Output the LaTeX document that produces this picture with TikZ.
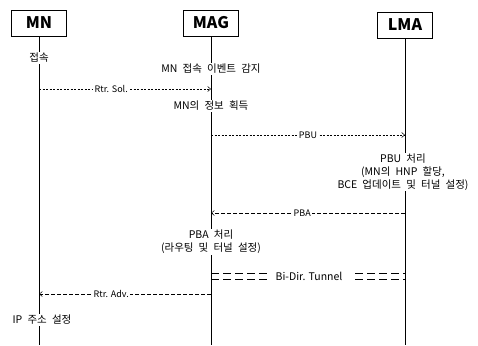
\documentclass[tikz,border=0pt]{standalone}
\usepackage{fontspec}
\setmainfont{Noto Sans CJK KR}[WordSpace=2.2]
\newfontfamily\msgfont{Noto Sans CJK KR}
\usetikzlibrary{arrows.meta}

\begin{document}
\begin{tikzpicture}[x=1pt,y=-1pt,
  ent/.style={rectangle,draw,line width=0.6pt,minimum width=55pt,
              minimum height=26pt,inner sep=0pt,
              font=\msgfont\fontsize{16}{16}\selectfont\bfseries},
  note/.style={fill=white,inner sep=1pt,align=center,
               font=\fontsize{10.5}{13}\selectfont},
  lbl/.style={fill=white,inner sep=1.5pt,font=\msgfont\fontsize{9}{10}\selectfont},
  life/.style={line width=0.6pt},
  sol/.style={-{Straight Barb[length=3pt,width=5pt]},line width=0.5pt,
              dash pattern=on 2pt off 1.5pt},
  adv/.style={-{Straight Barb[length=3pt,width=5pt]},line width=0.5pt,
              dash pattern=on 4pt off 2pt},
  tun/.style={line width=0.6pt,dash pattern=on 8pt off 4pt}]

\useasboundingbox (0,0) rectangle (478,345);

% entities
\node[ent] (mn) at (39,23) {MN};
\node[ent] (mag) at (211,23) {MAG};
\node[ent] (lma) at (405,25) {LMA};

\coordinate (mnb) at (39,345);
\coordinate (magb) at (211,345);
\coordinate (lmab) at (405,345);

\draw[life] (mn) -- (mnb);
\draw[life] (mag) -- (magb);
\draw[life] (lma) -- (lmab);

% message ends
\coordinate (solmn) at (39,89);
\coordinate (solmag) at (211,89);
\coordinate (pbumag) at (211,135);
\coordinate (pbulma) at (405,135);
\coordinate (pbalma) at (405,213);
\coordinate (pbamag) at (211,213);
\coordinate (tunmag1) at (211,273);
\coordinate (tunlma1) at (405,273);
\coordinate (tunmag2) at (211,279);
\coordinate (tunlma2) at (405,279);
\coordinate (advmag) at (211,294);
\coordinate (advmn) at (39,294);

% notes
\node[note] (attach) at (39,58) {접속};
\node[note] (detect) at (211,69) {MN 접속 이벤트 감지};
\node[note] (info) at (211,106) {MN의 정보 획득};
\node[note] (pbuproc) at (403,172)
  {PBU 처리\\(MN의 HNP 할당,\\BCE 업데이트 및 터널 설정)};
\node[note] (pbaproc) at (211,242) {PBA 처리\\(라우팅 및 터널 설정)};
\node[note] (ipconf) at (42,320) {IP 주소 설정};

% messages
\draw[sol] (solmn) -- node[lbl,pos=0.42] (rs) {Rtr. Sol.} (solmag);
\draw[sol] (pbumag) -- node[lbl] (pbu) {PBU} (pbulma);
\draw[adv] (pbalma) -- node[lbl,pos=0.53] (pba) {PBA} (pbamag);
\draw[tun] (tunmag1) -- (tunlma1);
\draw[tun] (tunmag2) -- (tunlma2);
\node[lbl,minimum height=11pt,inner xsep=9pt,font=\msgfont\fontsize{10.5}{10}\selectfont]
  (tunnel) at (309,276) {Bi-Dir. Tunnel};
\draw[adv] (advmag) -- node[lbl,pos=0.58] (ra) {Rtr. Adv.} (advmn);
\end{tikzpicture}
\end{document}
